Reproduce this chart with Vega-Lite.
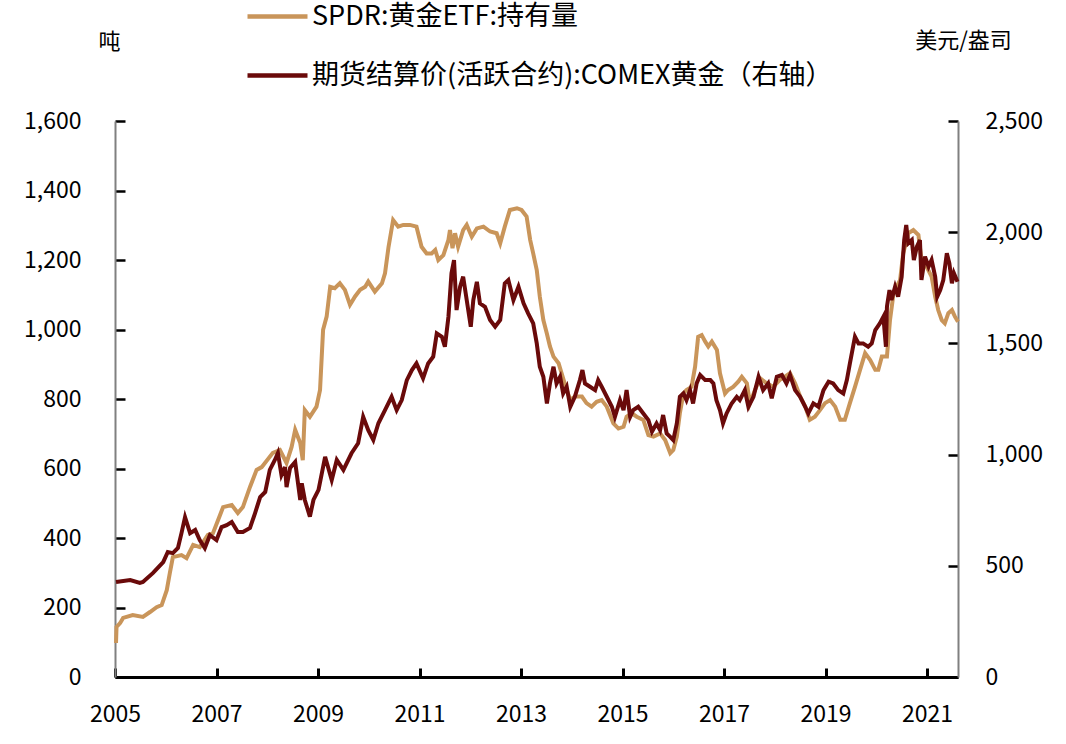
{
  "$schema": "https://vega.github.io/schema/vega-lite/v6.json",
  "width": 843,
  "height": 556,
  "autosize": {"type": "none"},
  "padding": {"left": 115, "top": 121, "right": 108, "bottom": 67},
  "background": "white",
  "config": {
    "view": {"stroke": null},
    "font": "Noto Sans CJK SC",
    "axis": {"grid": false, "labelFont": "Noto Sans CJK SC", "titleFont": "Noto Sans CJK SC", "labelColor": "#000000", "titleColor": "#000000", "titleFontWeight": "normal"}
  },
  "datasets": {
    "spdr": [
      {"year": 2005.02, "tonnes": 98}, {"year": 2005.03, "tonnes": 144}, {"year": 2005.10, "tonnes": 155},
      {"year": 2005.16, "tonnes": 170}, {"year": 2005.35, "tonnes": 178}, {"year": 2005.55, "tonnes": 173},
      {"year": 2005.69, "tonnes": 187}, {"year": 2005.82, "tonnes": 201}, {"year": 2005.92, "tonnes": 207},
      {"year": 2006.02, "tonnes": 250}, {"year": 2006.08, "tonnes": 299}, {"year": 2006.14, "tonnes": 345},
      {"year": 2006.31, "tonnes": 351}, {"year": 2006.41, "tonnes": 342}, {"year": 2006.54, "tonnes": 380},
      {"year": 2006.67, "tonnes": 374}, {"year": 2006.83, "tonnes": 409}, {"year": 2006.93, "tonnes": 414},
      {"year": 2007.07, "tonnes": 466}, {"year": 2007.13, "tonnes": 489}, {"year": 2007.30, "tonnes": 495},
      {"year": 2007.42, "tonnes": 472}, {"year": 2007.52, "tonnes": 489}, {"year": 2007.66, "tonnes": 547},
      {"year": 2007.79, "tonnes": 596}, {"year": 2007.89, "tonnes": 604}, {"year": 2008.11, "tonnes": 645},
      {"year": 2008.25, "tonnes": 653}, {"year": 2008.38, "tonnes": 616}, {"year": 2008.48, "tonnes": 662},
      {"year": 2008.55, "tonnes": 711}, {"year": 2008.65, "tonnes": 673}, {"year": 2008.70, "tonnes": 624},
      {"year": 2008.74, "tonnes": 768}, {"year": 2008.84, "tonnes": 749}, {"year": 2008.97, "tonnes": 778},
      {"year": 2009.04, "tonnes": 826}, {"year": 2009.10, "tonnes": 999}, {"year": 2009.17, "tonnes": 1037},
      {"year": 2009.24, "tonnes": 1123}, {"year": 2009.33, "tonnes": 1119}, {"year": 2009.43, "tonnes": 1133},
      {"year": 2009.53, "tonnes": 1114}, {"year": 2009.63, "tonnes": 1071}, {"year": 2009.73, "tonnes": 1095},
      {"year": 2009.83, "tonnes": 1114}, {"year": 2009.93, "tonnes": 1123}, {"year": 2009.99, "tonnes": 1138},
      {"year": 2010.12, "tonnes": 1109}, {"year": 2010.26, "tonnes": 1133}, {"year": 2010.32, "tonnes": 1162},
      {"year": 2010.39, "tonnes": 1238}, {"year": 2010.48, "tonnes": 1315}, {"year": 2010.58, "tonnes": 1296},
      {"year": 2010.68, "tonnes": 1301}, {"year": 2010.81, "tonnes": 1301}, {"year": 2010.94, "tonnes": 1296},
      {"year": 2011.04, "tonnes": 1238}, {"year": 2011.14, "tonnes": 1219}, {"year": 2011.24, "tonnes": 1219},
      {"year": 2011.31, "tonnes": 1229}, {"year": 2011.37, "tonnes": 1200}, {"year": 2011.47, "tonnes": 1214},
      {"year": 2011.57, "tonnes": 1258}, {"year": 2011.60, "tonnes": 1286}, {"year": 2011.65, "tonnes": 1234},
      {"year": 2011.70, "tonnes": 1277}, {"year": 2011.76, "tonnes": 1238}, {"year": 2011.86, "tonnes": 1286},
      {"year": 2011.93, "tonnes": 1301}, {"year": 2012.03, "tonnes": 1267}, {"year": 2012.13, "tonnes": 1291},
      {"year": 2012.26, "tonnes": 1296}, {"year": 2012.39, "tonnes": 1282}, {"year": 2012.52, "tonnes": 1277},
      {"year": 2012.59, "tonnes": 1248}, {"year": 2012.68, "tonnes": 1296}, {"year": 2012.78, "tonnes": 1344},
      {"year": 2012.92, "tonnes": 1349}, {"year": 2013.01, "tonnes": 1344}, {"year": 2013.11, "tonnes": 1325},
      {"year": 2013.18, "tonnes": 1258}, {"year": 2013.24, "tonnes": 1219}, {"year": 2013.31, "tonnes": 1171},
      {"year": 2013.37, "tonnes": 1095}, {"year": 2013.44, "tonnes": 1027}, {"year": 2013.51, "tonnes": 988},
      {"year": 2013.57, "tonnes": 951}, {"year": 2013.64, "tonnes": 922}, {"year": 2013.74, "tonnes": 903},
      {"year": 2013.80, "tonnes": 874}, {"year": 2013.90, "tonnes": 826}, {"year": 2013.97, "tonnes": 797},
      {"year": 2014.06, "tonnes": 807}, {"year": 2014.20, "tonnes": 807}, {"year": 2014.29, "tonnes": 788},
      {"year": 2014.39, "tonnes": 778}, {"year": 2014.49, "tonnes": 792}, {"year": 2014.59, "tonnes": 797},
      {"year": 2014.69, "tonnes": 778}, {"year": 2014.82, "tonnes": 730}, {"year": 2014.92, "tonnes": 715},
      {"year": 2015.02, "tonnes": 720}, {"year": 2015.08, "tonnes": 749}, {"year": 2015.18, "tonnes": 759},
      {"year": 2015.28, "tonnes": 749}, {"year": 2015.41, "tonnes": 740}, {"year": 2015.51, "tonnes": 696},
      {"year": 2015.61, "tonnes": 692}, {"year": 2015.74, "tonnes": 701}, {"year": 2015.84, "tonnes": 682},
      {"year": 2015.94, "tonnes": 644}, {"year": 2016.00, "tonnes": 653}, {"year": 2016.07, "tonnes": 692},
      {"year": 2016.13, "tonnes": 759}, {"year": 2016.20, "tonnes": 816}, {"year": 2016.26, "tonnes": 826},
      {"year": 2016.36, "tonnes": 835}, {"year": 2016.43, "tonnes": 893}, {"year": 2016.49, "tonnes": 979},
      {"year": 2016.56, "tonnes": 984}, {"year": 2016.63, "tonnes": 965}, {"year": 2016.69, "tonnes": 951},
      {"year": 2016.76, "tonnes": 965}, {"year": 2016.86, "tonnes": 941}, {"year": 2016.92, "tonnes": 874},
      {"year": 2017.02, "tonnes": 816}, {"year": 2017.08, "tonnes": 826}, {"year": 2017.18, "tonnes": 835},
      {"year": 2017.28, "tonnes": 850}, {"year": 2017.35, "tonnes": 864}, {"year": 2017.45, "tonnes": 845},
      {"year": 2017.51, "tonnes": 788}, {"year": 2017.61, "tonnes": 826}, {"year": 2017.71, "tonnes": 860},
      {"year": 2017.84, "tonnes": 845}, {"year": 2017.97, "tonnes": 835}, {"year": 2018.10, "tonnes": 855},
      {"year": 2018.20, "tonnes": 864}, {"year": 2018.30, "tonnes": 874}, {"year": 2018.40, "tonnes": 845},
      {"year": 2018.50, "tonnes": 807}, {"year": 2018.60, "tonnes": 778}, {"year": 2018.69, "tonnes": 740},
      {"year": 2018.79, "tonnes": 749}, {"year": 2018.89, "tonnes": 768}, {"year": 2018.99, "tonnes": 788},
      {"year": 2019.09, "tonnes": 797}, {"year": 2019.19, "tonnes": 778}, {"year": 2019.29, "tonnes": 740},
      {"year": 2019.38, "tonnes": 740}, {"year": 2019.48, "tonnes": 788}, {"year": 2019.58, "tonnes": 835},
      {"year": 2019.68, "tonnes": 884}, {"year": 2019.78, "tonnes": 932}, {"year": 2019.88, "tonnes": 912},
      {"year": 2019.98, "tonnes": 884}, {"year": 2020.04, "tonnes": 884}, {"year": 2020.11, "tonnes": 922},
      {"year": 2020.21, "tonnes": 922}, {"year": 2020.27, "tonnes": 1027}, {"year": 2020.34, "tonnes": 1104},
      {"year": 2020.40, "tonnes": 1123}, {"year": 2020.47, "tonnes": 1143}, {"year": 2020.53, "tonnes": 1219},
      {"year": 2020.63, "tonnes": 1277}, {"year": 2020.73, "tonnes": 1286}, {"year": 2020.83, "tonnes": 1272},
      {"year": 2020.89, "tonnes": 1200}, {"year": 2020.99, "tonnes": 1181}, {"year": 2021.09, "tonnes": 1152},
      {"year": 2021.16, "tonnes": 1095}, {"year": 2021.22, "tonnes": 1056}, {"year": 2021.29, "tonnes": 1027},
      {"year": 2021.35, "tonnes": 1018}, {"year": 2021.42, "tonnes": 1047}, {"year": 2021.49, "tonnes": 1056},
      {"year": 2021.55, "tonnes": 1037}, {"year": 2021.61, "tonnes": 1022}
    ],
    "gold": [
      {"year": 2005.02, "price": 427}, {"year": 2005.30, "price": 436}, {"year": 2005.49, "price": 423},
      {"year": 2005.55, "price": 427}, {"year": 2005.75, "price": 468}, {"year": 2005.95, "price": 517},
      {"year": 2006.04, "price": 562}, {"year": 2006.14, "price": 557}, {"year": 2006.24, "price": 580},
      {"year": 2006.31, "price": 647}, {"year": 2006.38, "price": 719}, {"year": 2006.48, "price": 647},
      {"year": 2006.58, "price": 661}, {"year": 2006.67, "price": 616}, {"year": 2006.77, "price": 580},
      {"year": 2006.87, "price": 638}, {"year": 2007.00, "price": 616}, {"year": 2007.10, "price": 674},
      {"year": 2007.20, "price": 683}, {"year": 2007.30, "price": 697}, {"year": 2007.42, "price": 652},
      {"year": 2007.52, "price": 652}, {"year": 2007.66, "price": 670}, {"year": 2007.76, "price": 737},
      {"year": 2007.86, "price": 809}, {"year": 2007.96, "price": 832}, {"year": 2008.05, "price": 931},
      {"year": 2008.15, "price": 976}, {"year": 2008.21, "price": 1007}, {"year": 2008.28, "price": 908},
      {"year": 2008.35, "price": 944}, {"year": 2008.38, "price": 854}, {"year": 2008.45, "price": 940},
      {"year": 2008.55, "price": 967}, {"year": 2008.65, "price": 796}, {"year": 2008.68, "price": 871},
      {"year": 2008.74, "price": 796}, {"year": 2008.84, "price": 721}, {"year": 2008.91, "price": 796},
      {"year": 2009.01, "price": 841}, {"year": 2009.14, "price": 990}, {"year": 2009.27, "price": 886},
      {"year": 2009.37, "price": 976}, {"year": 2009.50, "price": 931}, {"year": 2009.66, "price": 1006},
      {"year": 2009.79, "price": 1051}, {"year": 2009.89, "price": 1170}, {"year": 2009.99, "price": 1110},
      {"year": 2010.09, "price": 1066}, {"year": 2010.19, "price": 1141}, {"year": 2010.32, "price": 1200},
      {"year": 2010.45, "price": 1260}, {"year": 2010.55, "price": 1200}, {"year": 2010.65, "price": 1245},
      {"year": 2010.75, "price": 1335}, {"year": 2010.85, "price": 1380}, {"year": 2010.94, "price": 1410},
      {"year": 2011.07, "price": 1343}, {"year": 2011.17, "price": 1410}, {"year": 2011.27, "price": 1440},
      {"year": 2011.34, "price": 1545}, {"year": 2011.44, "price": 1530}, {"year": 2011.50, "price": 1485},
      {"year": 2011.57, "price": 1620}, {"year": 2011.63, "price": 1815}, {"year": 2011.68, "price": 1875},
      {"year": 2011.73, "price": 1650}, {"year": 2011.80, "price": 1755}, {"year": 2011.86, "price": 1800},
      {"year": 2011.93, "price": 1695}, {"year": 2012.01, "price": 1575}, {"year": 2012.06, "price": 1695},
      {"year": 2012.13, "price": 1777}, {"year": 2012.19, "price": 1680}, {"year": 2012.29, "price": 1665},
      {"year": 2012.39, "price": 1605}, {"year": 2012.49, "price": 1575}, {"year": 2012.59, "price": 1605},
      {"year": 2012.68, "price": 1770}, {"year": 2012.75, "price": 1785}, {"year": 2012.85, "price": 1695},
      {"year": 2012.95, "price": 1755}, {"year": 2013.05, "price": 1680}, {"year": 2013.14, "price": 1635},
      {"year": 2013.24, "price": 1590}, {"year": 2013.31, "price": 1500}, {"year": 2013.37, "price": 1395},
      {"year": 2013.44, "price": 1350}, {"year": 2013.51, "price": 1230}, {"year": 2013.57, "price": 1320},
      {"year": 2013.64, "price": 1395}, {"year": 2013.70, "price": 1320}, {"year": 2013.77, "price": 1350},
      {"year": 2013.83, "price": 1275}, {"year": 2013.90, "price": 1305}, {"year": 2013.97, "price": 1215},
      {"year": 2014.06, "price": 1260}, {"year": 2014.16, "price": 1335}, {"year": 2014.21, "price": 1380},
      {"year": 2014.26, "price": 1320}, {"year": 2014.36, "price": 1305}, {"year": 2014.46, "price": 1290},
      {"year": 2014.52, "price": 1335}, {"year": 2014.59, "price": 1305}, {"year": 2014.69, "price": 1260},
      {"year": 2014.79, "price": 1215}, {"year": 2014.85, "price": 1170}, {"year": 2014.95, "price": 1245},
      {"year": 2015.02, "price": 1200}, {"year": 2015.08, "price": 1290}, {"year": 2015.15, "price": 1170},
      {"year": 2015.21, "price": 1200}, {"year": 2015.31, "price": 1215}, {"year": 2015.41, "price": 1185},
      {"year": 2015.51, "price": 1155}, {"year": 2015.58, "price": 1103}, {"year": 2015.67, "price": 1140},
      {"year": 2015.74, "price": 1110}, {"year": 2015.80, "price": 1178}, {"year": 2015.87, "price": 1095},
      {"year": 2015.94, "price": 1080}, {"year": 2016.00, "price": 1065}, {"year": 2016.07, "price": 1140},
      {"year": 2016.13, "price": 1260}, {"year": 2016.20, "price": 1275}, {"year": 2016.26, "price": 1245},
      {"year": 2016.33, "price": 1290}, {"year": 2016.39, "price": 1230}, {"year": 2016.46, "price": 1320},
      {"year": 2016.53, "price": 1358}, {"year": 2016.63, "price": 1335}, {"year": 2016.73, "price": 1335},
      {"year": 2016.79, "price": 1320}, {"year": 2016.85, "price": 1245}, {"year": 2016.92, "price": 1200},
      {"year": 2016.98, "price": 1140}, {"year": 2017.05, "price": 1185}, {"year": 2017.15, "price": 1230},
      {"year": 2017.25, "price": 1260}, {"year": 2017.31, "price": 1245}, {"year": 2017.41, "price": 1290},
      {"year": 2017.48, "price": 1215}, {"year": 2017.58, "price": 1260}, {"year": 2017.68, "price": 1350},
      {"year": 2017.77, "price": 1290}, {"year": 2017.87, "price": 1320}, {"year": 2017.94, "price": 1253},
      {"year": 2018.04, "price": 1350}, {"year": 2018.14, "price": 1358}, {"year": 2018.23, "price": 1320},
      {"year": 2018.30, "price": 1358}, {"year": 2018.40, "price": 1290}, {"year": 2018.50, "price": 1260},
      {"year": 2018.60, "price": 1215}, {"year": 2018.66, "price": 1185}, {"year": 2018.76, "price": 1230},
      {"year": 2018.86, "price": 1215}, {"year": 2018.96, "price": 1290}, {"year": 2019.06, "price": 1328},
      {"year": 2019.15, "price": 1320}, {"year": 2019.25, "price": 1290}, {"year": 2019.35, "price": 1275},
      {"year": 2019.42, "price": 1335}, {"year": 2019.48, "price": 1410}, {"year": 2019.58, "price": 1530},
      {"year": 2019.65, "price": 1500}, {"year": 2019.74, "price": 1500}, {"year": 2019.84, "price": 1485},
      {"year": 2019.91, "price": 1500}, {"year": 2019.98, "price": 1560}, {"year": 2020.07, "price": 1590},
      {"year": 2020.14, "price": 1620}, {"year": 2020.19, "price": 1485}, {"year": 2020.21, "price": 1665},
      {"year": 2020.26, "price": 1740}, {"year": 2020.30, "price": 1695}, {"year": 2020.37, "price": 1755},
      {"year": 2020.43, "price": 1710}, {"year": 2020.50, "price": 1800}, {"year": 2020.55, "price": 1965},
      {"year": 2020.59, "price": 2032}, {"year": 2020.63, "price": 1950}, {"year": 2020.70, "price": 1965},
      {"year": 2020.74, "price": 1875}, {"year": 2020.80, "price": 1935}, {"year": 2020.86, "price": 1965},
      {"year": 2020.89, "price": 1785}, {"year": 2020.96, "price": 1890}, {"year": 2021.03, "price": 1845},
      {"year": 2021.09, "price": 1875}, {"year": 2021.16, "price": 1800}, {"year": 2021.20, "price": 1710},
      {"year": 2021.26, "price": 1740}, {"year": 2021.32, "price": 1785}, {"year": 2021.39, "price": 1905},
      {"year": 2021.44, "price": 1860}, {"year": 2021.49, "price": 1770}, {"year": 2021.53, "price": 1815},
      {"year": 2021.60, "price": 1777}
    ]
  },
  "layer": [
    {
      "data": {"name": "spdr"},
      "mark": {"type": "line", "strokeWidth": 4, "interpolate": "linear"},
      "encoding": {
        "x": {
          "field": "year", "type": "quantitative",
          "scale": {"domain": [2005, 2021.61], "nice": false, "zero": false},
          "axis": {
            "values": [2005, 2007, 2009, 2011, 2013, 2015, 2017, 2019, 2021],
            "format": "d", "title": null,
            "domainColor": "#000000", "domainWidth": 3,
            "tickColor": "#000000", "tickWidth": 3, "tickSize": -9,
            "labelFontSize": 23, "labelPadding": 46, "labelFlush": false, "labelBaseline": "middle"
          }
        },
        "y": {
          "field": "tonnes", "type": "quantitative",
          "scale": {"domain": [0, 1600], "nice": false},
          "axis": {
            "values": [0, 200, 400, 600, 800, 1000, 1200, 1400, 1600],
            "format": ",d",
            "domainColor": "#808080", "domainWidth": 2,
            "tickColor": "#000000", "tickWidth": 2.5, "tickSize": -10,
            "labelFontSize": 23, "labelPadding": 44,
            "title": "吨", "titleAngle": 0, "titleFontSize": 22,
            "titleX": -6, "titleY": -80, "titleAlign": "center", "titleBaseline": "middle"
          }
        },
        "color": {
          "datum": "SPDR:黄金ETF:持有量", "type": "nominal",
          "scale": {
            "domain": ["SPDR:黄金ETF:持有量", "期货结算价(活跃合约):COMEX黄金（右轴）"],
            "range": ["#C9955A", "#6A0A0A"]
          },
          "legend": {
            "orient": "none", "legendX": 130, "legendY": -137, "direction": "vertical",
            "title": null, "padding": 0,
            "symbolType": "stroke", "symbolSize": 3600, "symbolStrokeWidth": 4.5,
            "labelFontSize": 27, "labelFont": "Noto Sans CJK SC", "labelColor": "#000000",
            "labelLimit": 0, "labelOffset": 2, "rowPadding": 13
          }
        }
      }
    },
    {
      "data": {"name": "gold"},
      "mark": {"type": "line", "strokeWidth": 4, "interpolate": "linear"},
      "encoding": {
        "x": {"field": "year", "type": "quantitative"},
        "y": {
          "field": "price", "type": "quantitative",
          "scale": {"domain": [0, 2500], "nice": false},
          "axis": {
            "orient": "right",
            "values": [0, 500, 1000, 1500, 2000, 2500],
            "format": ",d",
            "domainColor": "#808080", "domainWidth": 2,
            "tickColor": "#000000", "tickWidth": 2.5, "tickSize": -10,
            "labelFontSize": 23, "labelPadding": 37,
            "title": "美元/盎司", "titleAngle": 0, "titleFontSize": 22,
            "titleX": 5, "titleY": -81, "titleAlign": "center", "titleBaseline": "middle"
          }
        },
        "color": {"datum": "期货结算价(活跃合约):COMEX黄金（右轴）", "type": "nominal"}
      }
    }
  ],
  "resolve": {"scale": {"y": "independent"}}
}
